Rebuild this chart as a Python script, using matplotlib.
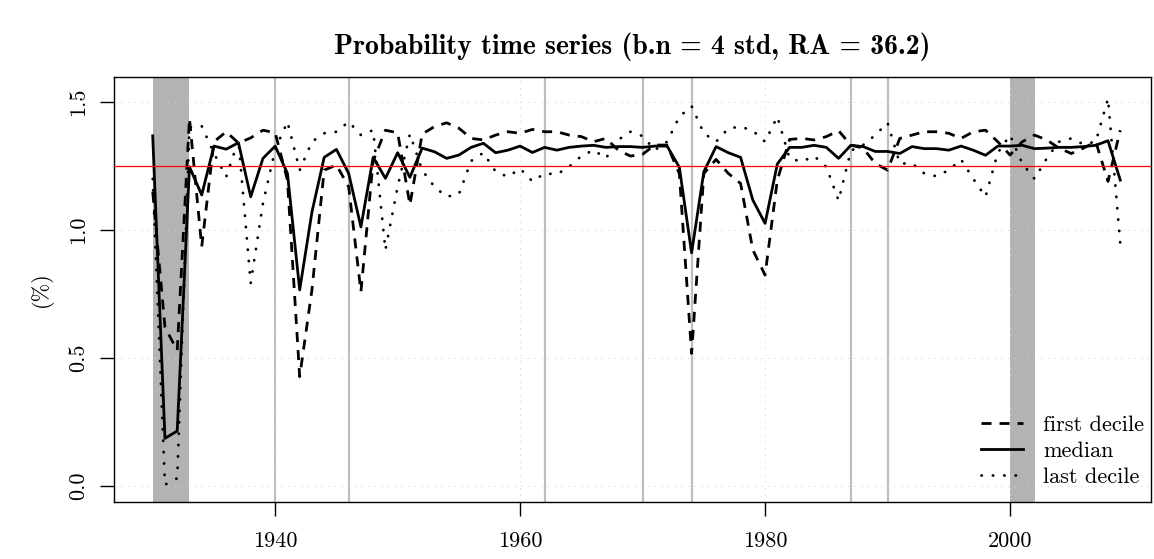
import matplotlib
matplotlib.use("Agg")
import matplotlib.pyplot as plt
import numpy as np

# yearly values (in %)
years = np.arange(1930, 2010)

first_decile = [
    1.15, 0.62, 0.53, 1.436, 0.935, 1.345, 1.384, 1.34, 1.36, 1.39,
    1.38, 1.195, 0.427, 0.766, 1.234, 1.254, 1.169, 0.759, 1.27, 1.39,
    1.38, 1.098, 1.375, 1.404, 1.419, 1.398, 1.358, 1.352, 1.371, 1.384,
    1.378, 1.393, 1.384, 1.384, 1.371, 1.365, 1.345, 1.358, 1.3125, 1.289,
    1.296, 1.332, 1.332, 1.22, 0.518, 1.221, 1.276, 1.221, 1.182, 0.922,
    0.824, 1.195, 1.354, 1.358, 1.352, 1.365, 1.388, 1.332, 1.32, 1.26,
    1.234, 1.358, 1.371, 1.384, 1.384, 1.378, 1.358, 1.384, 1.39, 1.345,
    1.293, 1.345, 1.371, 1.352, 1.32, 1.299, 1.32, 1.345, 1.19, 1.39,
]
median = [
    1.368, 0.186, 0.215, 1.247, 1.137, 1.328, 1.316, 1.341, 1.130, 1.280,
    1.328, 1.221, 0.766, 1.070, 1.284, 1.315, 1.221, 1.012, 1.284, 1.202,
    1.302, 1.206, 1.320, 1.306, 1.280, 1.293, 1.323, 1.339, 1.302, 1.312,
    1.328, 1.303, 1.323, 1.312, 1.323, 1.328, 1.331, 1.323, 1.326, 1.326,
    1.323, 1.328, 1.328, 1.245, 0.911, 1.228, 1.326, 1.302, 1.284, 1.117,
    1.026, 1.258, 1.323, 1.323, 1.331, 1.323, 1.280, 1.331, 1.326, 1.307,
    1.307, 1.299, 1.326, 1.318, 1.318, 1.312, 1.328, 1.312, 1.292, 1.328,
    1.328, 1.331, 1.318, 1.320, 1.323, 1.323, 1.326, 1.331, 1.349, 1.195,
]
last_decile = [
    1.2, 0.005, 0.03, 1.40, 1.406, 1.30, 1.208, 1.352, 0.792, 1.104,
    1.315, 1.423, 1.234, 1.345, 1.378, 1.384, 1.423, 1.371, 1.39, 0.922,
    1.17, 1.375, 1.234, 1.169, 1.13, 1.14, 1.27, 1.302, 1.228, 1.208,
    1.24, 1.19, 1.221, 1.218, 1.247, 1.289, 1.3125, 1.28, 1.352, 1.384,
    1.367, 1.3125, 1.345, 1.443, 1.484, 1.378, 1.345, 1.397, 1.404, 1.388,
    1.345, 1.443, 1.28, 1.267, 1.289, 1.247, 1.115, 1.31, 1.332, 1.371,
    1.419, 1.26, 1.26, 1.221, 1.21, 1.234, 1.276, 1.2, 1.13, 1.302,
    1.371, 1.26, 1.20, 1.28, 1.345, 1.358, 1.335, 1.345, 1.514, 0.948,
]

shaded_periods = [(1930, 1933), (2000, 2002)]
event_years = [1940, 1946, 1962, 1970, 1974, 1987, 1990]
threshold = 1.25

plt.rcParams['font.family'] = ['cmr10', 'DejaVu Serif']
plt.rcParams['axes.formatter.use_mathtext'] = True
plt.rcParams['font.size'] = 16

fig = plt.figure(figsize=(11.54, 5.59), dpi=100)
ax = fig.add_axes([0.0988, 0.102, 0.8986, 0.7603])

for a, b in shaded_periods:
    ax.axvspan(a, b, color='#b3b3b3', lw=0, zorder=0)
for yr in event_years:
    ax.axvline(yr, color='#bebebe', lw=1.6, zorder=1)

# R-style dotted grid
for yr in [1940, 1960, 1980, 2000]:
    ax.axvline(yr, color='#d3d3d3', lw=0.8, ls=(0, (1, 5)), zorder=1.5)
for v in [0.0, 0.5, 1.0, 1.5]:
    ax.axhline(v, color='#d3d3d3', lw=0.8, ls=(0, (1, 5)), zorder=1.5)

ax.plot(years, first_decile, color='black', lw=2, ls=(0, (3.6, 2.9)),
        label='first decile', zorder=3)
ax.plot(years, median, color='black', lw=2, ls='-', label='median', zorder=3)
ax.plot(years, last_decile, color='black', lw=2, ls=(0, (0.1, 4)),
        dash_capstyle='round', label='last decile', zorder=3)
ax.axhline(threshold, color='red', lw=0.9, zorder=4)

ax.set_xlim(1926.84, 2011.51)
ax.set_ylim(-0.0625, 1.598)
ax.set_xticks([1940, 1960, 1980, 2000])
ax.set_xticklabels(['1940', '1960', '1980', '2000'])
ax.set_yticks([0, 0.5, 1.0, 1.5])
ax.set_yticklabels(['0.0', '0.5', '1.0', '1.5'], rotation=90, va='center')
ax.tick_params(axis='both', length=10, width=1, direction='out', labelsize=16)
ax.tick_params(axis='x', pad=11)
ax.tick_params(axis='y', pad=9)
for s in ax.spines.values():
    s.set_linewidth(1)

ax.set_ylabel('(%)', fontsize=16, labelpad=11)

leg = ax.legend(loc='lower right', bbox_to_anchor=(1.002, 0.014), frameon=False,
                handlelength=1.9, handletextpad=0.9, labelspacing=0.3,
                borderaxespad=0, fontsize=16)

fig.text(0.548, 0.916, 'Probability time series (b.n = 4 std, RA = 36.2)',
         family=['cmb10', 'DejaVu Serif'], fontsize=20, ha='center', va='center')

fig.savefig('out.png', dpi=100)
